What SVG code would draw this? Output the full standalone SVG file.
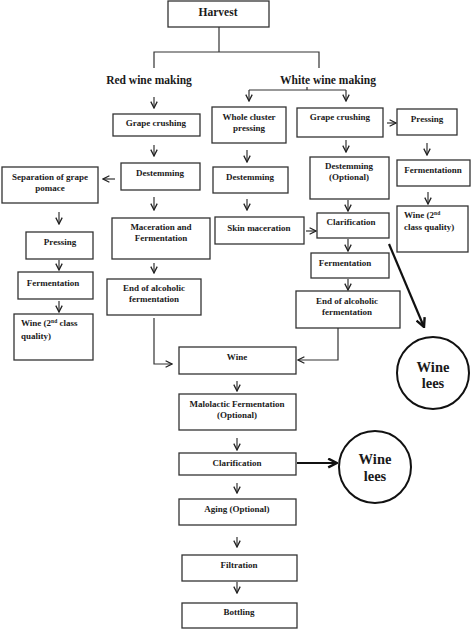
<svg xmlns="http://www.w3.org/2000/svg" width="474" height="630" viewBox="0 0 474 630">
<defs>
<style>
.b{fill:#fff;stroke:#333;stroke-width:1.3}
.t{font-family:"Liberation Serif","Times New Roman",serif;font-weight:bold;font-size:9px;fill:#1a1a1a;text-anchor:middle}
.l{text-anchor:start}
.h{font-size:11.5px}
.w{font-size:14.5px}
.c{fill:none;stroke:#333;stroke-width:1.2}
.k{fill:none;stroke:#111;stroke-width:2.2}
.cl{fill:#fff;stroke:#111;stroke-width:2}
</style>
<marker id="a" viewBox="0 0 10 10" refX="9" refY="5" markerWidth="8" markerHeight="8" markerUnits="userSpaceOnUse" orient="auto">
<path d="M1,1 L9,5 L1,9" fill="none" stroke="#222" stroke-width="1.6"/>
</marker>
<marker id="b" viewBox="0 0 10 10" refX="9" refY="5" markerWidth="11" markerHeight="11" markerUnits="userSpaceOnUse" orient="auto">
<path d="M1,1 L9,5 L1,9" fill="none" stroke="#111" stroke-width="2.2"/>
</marker>
</defs>
<rect width="474" height="630" fill="#fff"/>

<g id="connectors">
<path class="c" d="M219 27 V52 M154 68 V52 H319 V68"/>
<path class="c" d="M307 87 V90 M249 90 H346"/>
<path class="c" marker-end="url(#a)" d="M249 90 V101"/>
<path class="c" marker-end="url(#a)" d="M346 90 V101"/>
<path class="c" marker-end="url(#a)" d="M154 97 V108"/>
<path class="c" marker-end="url(#a)" d="M154 145 V156"/>
<path class="c" marker-end="url(#a)" d="M115 179 H103"/>
<path class="c" marker-end="url(#a)" d="M59 212 V224"/>
<path class="c" marker-end="url(#a)" d="M59 260 V270"/>
<path class="c" marker-end="url(#a)" d="M59 301 V312"/>
<path class="c" marker-end="url(#a)" d="M154 197 V210"/>
<path class="c" marker-end="url(#a)" d="M154 263 V273"/>
<path class="c" marker-end="url(#a)" d="M154 318 V364 H172"/>
<path class="c" marker-end="url(#a)" d="M247 150 V162"/>
<path class="c" marker-end="url(#a)" d="M247 199 V210"/>
<path class="c" marker-end="url(#a)" d="M306 231 H316"/>
<path class="c" marker-end="url(#a)" d="M346 140 V152"/>
<path class="c" marker-end="url(#a)" d="M387 123 H396"/>
<path class="c" marker-end="url(#a)" d="M348 200 V211"/>
<path class="c" marker-end="url(#a)" d="M348 239 V251"/>
<path class="c" marker-end="url(#a)" d="M348 279 V290"/>
<path class="c" marker-end="url(#a)" d="M338 328 V360 H298"/>
<path class="c" marker-end="url(#a)" d="M427 143 V155"/>
<path class="c" marker-end="url(#a)" d="M428 192 V204"/>
<path class="k" marker-end="url(#b)" d="M389 244 L424 327"/>
<path class="c" marker-end="url(#a)" d="M237 381 V391"/>
<path class="c" marker-end="url(#a)" d="M237 438 V450"/>
<path class="k" marker-end="url(#b)" d="M297 463 H337"/>
<path class="c" marker-end="url(#a)" d="M237 483 V493"/>
<path class="c" marker-end="url(#a)" d="M237 537 V547"/>
<path class="c" marker-end="url(#a)" d="M237 582 V593"/>
</g>

<g id="harvest"><rect class="b" x="168" y="1" width="101" height="26"/><text class="t h" x="218" y="16">Harvest</text></g>
<g id="red-label"><text class="t h" x="149" y="84">Red wine making</text></g>
<g id="white-label"><text class="t h" x="328" y="84">White wine making</text></g>

<g id="red-crushing"><rect class="b" x="113" y="114" width="87" height="22"/><text class="t" x="156" y="126">Grape crushing</text></g>
<g id="red-destemming"><rect class="b" x="121" y="163" width="79" height="27"/><text class="t" x="160" y="176">Destemming</text></g>
<g id="separation"><rect class="b" x="2" y="167" width="96" height="36"/><text class="t" x="50" y="180">Separation of grape</text><text class="t" x="50" y="191">pomace</text></g>
<g id="left-pressing"><rect class="b" x="26" y="232" width="67" height="27"/><text class="t" x="60" y="245">Pressing</text></g>
<g id="left-fermentation"><rect class="b" x="18" y="272" width="75" height="27"/><text class="t" x="53" y="286">Fermentation</text></g>
<g id="left-wine2"><rect class="b" x="14" y="314" width="79" height="46"/><text class="t l" x="21" y="326">Wine (2<tspan font-size="5.5" dy="-3.5">nd</tspan><tspan dy="3.5"> class</tspan></text><text class="t l" x="21" y="339">quality)</text></g>
<g id="maceration"><rect class="b" x="112" y="218" width="98" height="41"/><text class="t" x="161" y="230">Maceration and</text><text class="t" x="161" y="241">Fermentation</text></g>
<g id="red-end"><rect class="b" x="107" y="279" width="94" height="36"/><text class="t" x="154" y="291">End of alcoholic</text><text class="t" x="154" y="302">fermentation</text></g>

<g id="whole-cluster"><rect class="b" x="212" y="107" width="74" height="36"/><text class="t" x="249" y="120">Whole cluster</text><text class="t" x="249" y="131">pressing</text></g>
<g id="white-destemming"><rect class="b" x="213" y="167" width="75" height="26"/><text class="t" x="250" y="180">Destemming</text></g>
<g id="skin-maceration"><rect class="b" x="215" y="217" width="89" height="27"/><text class="t" x="259" y="231">Skin maceration</text></g>
<g id="white-crushing"><rect class="b" x="297" y="108" width="86" height="29"/><text class="t" x="340" y="120">Grape crushing</text></g>
<g id="destemming-optional"><rect class="b" x="310" y="157" width="79" height="42"/><text class="t" x="349" y="169">Destemming</text><text class="t" x="349" y="180">(Optional)</text></g>
<g id="white-clarification"><rect class="b" x="317" y="213" width="72" height="25"/><text class="t" x="351" y="225">Clarification</text></g>
<g id="white-fermentation"><rect class="b" x="311" y="253" width="78" height="25"/><text class="t" x="345" y="266">Fermentation</text></g>
<g id="white-end"><rect class="b" x="296" y="291" width="104" height="37"/><text class="t" x="347" y="304">End of alcoholic</text><text class="t" x="347" y="315">fermentation</text></g>
<g id="right-pressing"><rect class="b" x="397" y="109" width="60" height="26"/><text class="t" x="427" y="122">Pressing</text></g>
<g id="fermentationn"><rect class="b" x="397" y="160" width="73" height="26"/><text class="t" x="433" y="173">Fermentationn</text></g>
<g id="right-wine2"><rect class="b" x="397" y="206" width="71" height="46"/><text class="t l" x="404" y="218">Wine (2<tspan font-size="5.5" dy="-3.5">nd</tspan></text><text class="t l" x="404" y="230">class quality)</text></g>
<g id="lees1"><circle class="cl" cx="433" cy="373" r="36"/><text class="t w" x="433" y="372">Wine</text><text class="t w" x="433" y="388">lees</text></g>

<g id="wine"><rect class="b" x="179" y="347" width="117" height="27"/><text class="t" x="237" y="360">Wine</text></g>
<g id="malolactic"><rect class="b" x="179" y="394" width="117" height="36"/><text class="t" x="237" y="407">Malolactic Fermentation</text><text class="t" x="237" y="418">(Optional)</text></g>
<g id="clarification"><rect class="b" x="179" y="453" width="117" height="22"/><text class="t" x="237" y="466">Clarification</text></g>
<g id="lees2"><circle class="cl" cx="375" cy="467" r="36"/><text class="t w" x="375" y="464">Wine</text><text class="t w" x="375" y="481">lees</text></g>
<g id="aging"><rect class="b" x="179" y="499" width="117" height="26"/><text class="t" x="237" y="512">Aging (Optional)</text></g>
<g id="filtration"><rect class="b" x="182" y="555" width="115" height="26"/><text class="t" x="239" y="568">Filtration</text></g>
<g id="bottling"><rect class="b" x="182" y="603" width="115" height="25"/><text class="t" x="239" y="615">Bottling</text></g>
</svg>
